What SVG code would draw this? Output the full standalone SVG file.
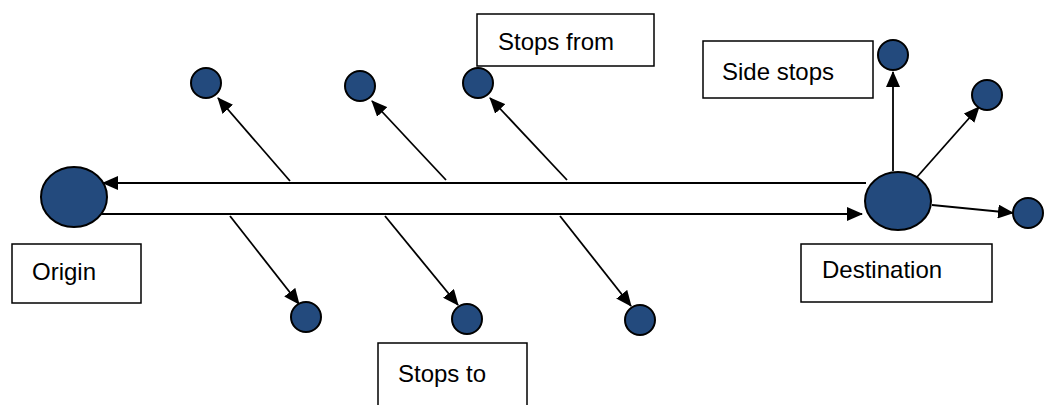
<svg xmlns="http://www.w3.org/2000/svg" width="1044" height="405" viewBox="0 0 1044 405">
  <defs>
    <style>
      .node { fill: #234a7d; stroke: #000; stroke-width: 2; }
      .box { fill: #fff; stroke: #000; stroke-width: 1.5; }
      .label { font-family: "Liberation Sans", Arial, sans-serif; font-size: 24px; fill: #000; }
      .link { stroke: #000; stroke-width: 1.8; fill: none; marker-end: url(#arrow); }
    </style>
    <marker id="arrow" markerUnits="userSpaceOnUse" markerWidth="17" markerHeight="14" refX="15" refY="7" orient="auto">
      <path d="M0,0 L16,7 L0,14 Z" fill="#000"/>
    </marker>
  </defs>
  <rect width="1044" height="405" fill="#fff"/>

  <!-- connectors -->
  <g id="connectors">
    <line class="link" x1="866" y1="183" x2="103" y2="183"/>
    <line class="link" x1="100" y1="214" x2="862" y2="214"/>
    <line class="link" x1="290" y1="181" x2="218" y2="98"/>
    <line class="link" x1="446" y1="180" x2="372" y2="101"/>
    <line class="link" x1="567" y1="180" x2="490" y2="98"/>
    <line class="link" x1="230" y1="216" x2="299" y2="304"/>
    <line class="link" x1="385" y1="216" x2="458" y2="305"/>
    <line class="link" x1="560" y1="216" x2="631" y2="306"/>
    <line class="link" x1="893" y1="171" x2="893" y2="72"/>
    <line class="link" x1="917" y1="177" x2="979" y2="107"/>
    <line class="link" x1="932" y1="205" x2="1013" y2="213"/>
  </g>

  <g id="origin">
    <ellipse class="node" cx="74" cy="197" rx="33" ry="30"/>
    <rect class="box" x="12" y="244" width="129" height="59"/>
    <text class="label" x="32" y="280">Origin</text>
  </g>

  <g id="destination">
    <ellipse class="node" cx="898" cy="201" rx="33" ry="29"/>
    <rect class="box" x="801" y="244" width="191" height="58"/>
    <text class="label" x="822" y="278">Destination</text>
  </g>

  <g id="stops-from">
    <rect class="box" x="477" y="14" width="177" height="52"/>
    <text class="label" x="498" y="50">Stops from</text>
    <circle class="node" cx="206" cy="83" r="15"/>
    <circle class="node" cx="360" cy="86" r="15"/>
    <circle class="node" cx="478" cy="83" r="15"/>
  </g>

  <g id="stops-to">
    <rect class="box" x="378" y="343" width="149" height="80"/>
    <text class="label" x="398" y="382">Stops to</text>
    <circle class="node" cx="306" cy="317" r="15"/>
    <circle class="node" cx="467" cy="319" r="15"/>
    <circle class="node" cx="640" cy="320" r="15"/>
  </g>

  <g id="side-stops">
    <rect class="box" x="703" y="41" width="170" height="57"/>
    <text class="label" x="722" y="80">Side stops</text>
    <circle class="node" cx="893" cy="55" r="15"/>
    <circle class="node" cx="987" cy="95" r="15"/>
    <circle class="node" cx="1028" cy="213" r="15"/>
  </g>
</svg>
